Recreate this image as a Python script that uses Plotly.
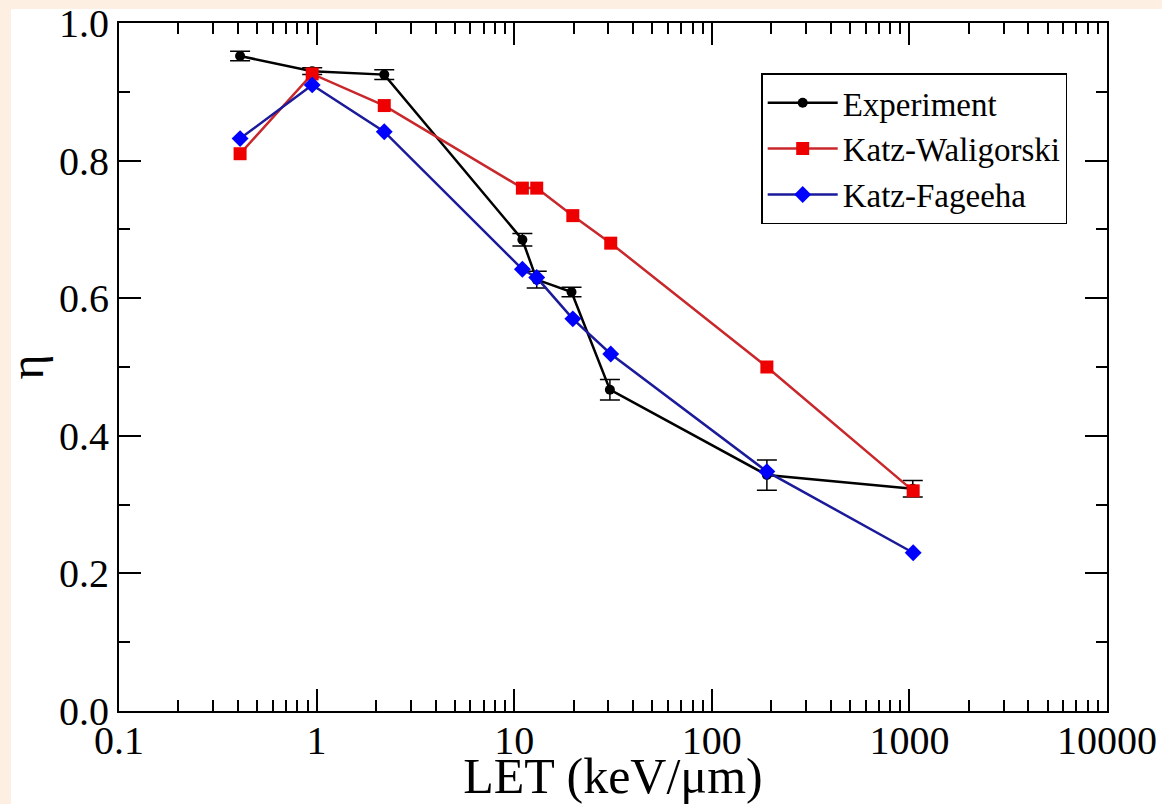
import plotly.graph_objects as go

# ---- data ----
let_exp = [0.41, 0.95, 2.2, 11, 13, 19.5, 30.5, 190, 1040]
eta_exp = [0.952, 0.930, 0.925, 0.685, 0.627, 0.609, 0.467, 0.343, 0.323]
err_exp = [0.007, 0.005, 0.007, 0.009, 0.012, 0.007, 0.015, 0.022, 0.012]

let_model = [0.41, 0.95, 2.2, 11, 13, 19.8, 30.8, 190, 1045]
eta_waligorski = [0.810, 0.926, 0.880, 0.760, 0.760, 0.720, 0.680, 0.500, 0.320]
eta_fageeha = [0.832, 0.910, 0.842, 0.642, 0.630, 0.570, 0.519, 0.348, 0.230]

x_tickvals = [0.1, 1, 10, 100, 1000, 10000]
x_ticktext = ["0.1", "1", "10", "100", "1000", "10000"]

names = ["Experiment", "Katz-Waligorski", "Katz-Fageeha"]

FONT = "Liberation Serif, Times New Roman, serif"
PEACH = "#FEEFE3"

fig = go.Figure()
fig.add_trace(go.Scatter(
    x=let_exp, y=eta_exp, name=names[0], mode="lines+markers",
    line=dict(color="black", width=2.5),
    marker=dict(symbol="circle", size=10, color="black"),
    error_y=dict(type="data", array=err_exp, visible=True, color="black",
                 thickness=1.5, width=10),
))
fig.add_trace(go.Scatter(
    x=let_model, y=eta_waligorski, name=names[1], mode="lines+markers",
    line=dict(color="#C8282B", width=2.5),
    marker=dict(symbol="square", size=13, color="#EE0000"),
))
fig.add_trace(go.Scatter(
    x=let_model, y=eta_fageeha, name=names[2], mode="lines+markers",
    line=dict(color="#1A1A9A", width=2.5),
    marker=dict(symbol="diamond", size=13, color="#0000FF"),
))

fig.update_layout(
    width=1162, height=804,
    margin=dict(l=119, r=55, t=23, b=93, autoexpand=False),
    paper_bgcolor=PEACH, plot_bgcolor="white",
    font=dict(family=FONT, color="black", size=40),
    showlegend=True,
    legend=dict(
        x=0.650, y=0.927, xanchor="left", yanchor="top",
        bgcolor="white", bordercolor="black", borderwidth=1.5,
        font=dict(family=FONT, size=33, color="black"),
        tracegroupgap=0, itemsizing="trace", itemwidth=70,
    ),
    shapes=[dict(type="rect", xref="paper", yref="paper",
                 x0=-0.1093, x1=1.2, y0=-0.3, y1=1.0203,
                 fillcolor="white", line=dict(width=0), layer="below")],
)

fig.update_xaxes(
    type="log", range=[-1, 4], automargin=True,
    tickvals=x_tickvals, ticktext=x_ticktext,
    ticks="inside", ticklen=22, tickwidth=1.5, tickcolor="black",
    ticklabelstandoff=-7,
    showline=True, linecolor="black", linewidth=2, mirror="ticks",
    showgrid=False, zeroline=False,
    tickfont=dict(family=FONT, size=40),
    minor=dict(ticks="inside", ticklen=11, tickwidth=1.5, tickcolor="black",
               dtick="D1", showgrid=False),
    title=dict(text="LET (keV/μm)", font=dict(family=FONT, size=50), standoff=4),
)
fig.update_yaxes(
    range=[0, 1.0], dtick=0.2, tick0=0, tickformat=".1f", automargin=True,
    ticks="inside", ticklen=22, tickwidth=1.5, tickcolor="black",
    showline=True, linecolor="black", linewidth=2, mirror="ticks",
    showgrid=False, zeroline=False,
    tickfont=dict(family=FONT, size=40),
    minor=dict(ticks="inside", ticklen=11, tickwidth=1.5, tickcolor="black",
               dtick=0.1, showgrid=False),
    title=dict(text="η", font=dict(family=FONT, size=48), standoff=14),
)

fig.write_html(
    "out.html",
    config={"displayModeBar": False},
    post_script="document.body.style.margin='0';document.body.style.overflow='hidden';",
)
